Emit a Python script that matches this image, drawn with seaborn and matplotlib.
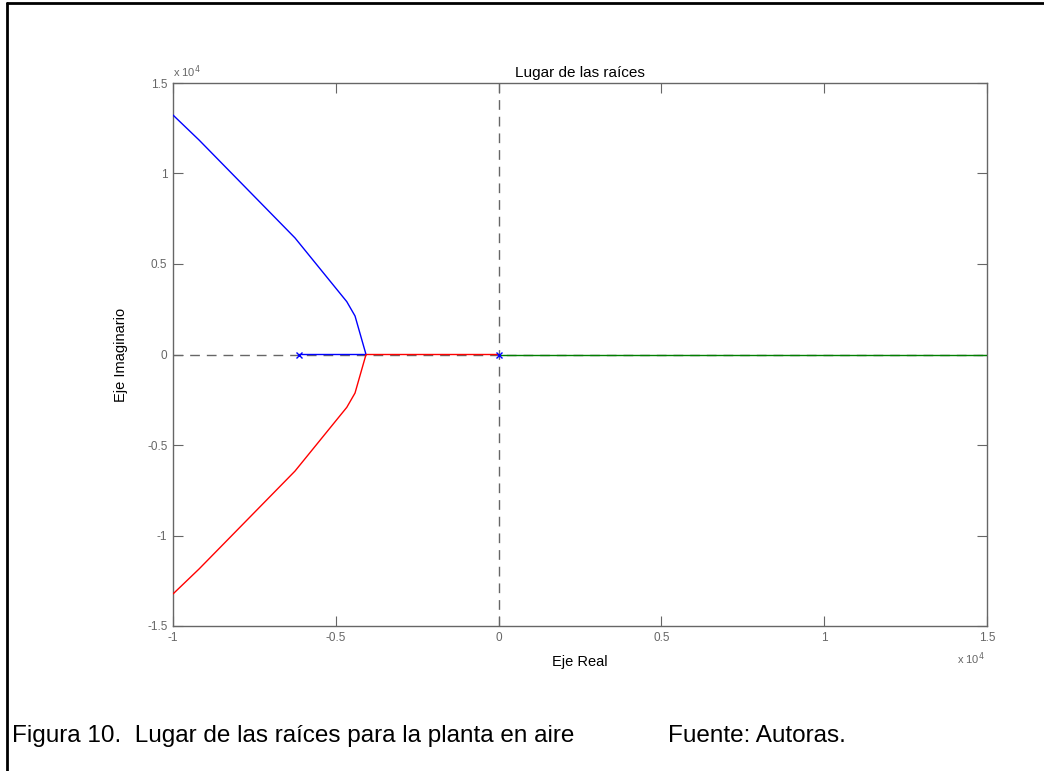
import matplotlib
matplotlib.use("Agg")
import matplotlib.pyplot as plt
import seaborn as sns
import numpy as np
import pandas as pd

sns.set_style("white")
plt.rcParams['font.family'] = ['Liberation Sans', 'DejaVu Sans']

# Root locus branches (real, imaginary)
blue_re = [-6120, -4072, -4410, -4663, -6253, -9200, -10000]
blue_im = [0, 0, 2130, 2920, 6440, 11850, 13230]
red_re = [0, -4072, -4410, -4663, -6253, -9200, -10000]
red_im = [0, 0, -2130, -2920, -6440, -11850, -13230]
green_re = [0, 15000]
green_im = [0, 0]
poles_re = [-6120, 0]
poles_im = [0, 0]

xticks = [-10000, -5000, 0, 5000, 10000, 15000]
xticklabels = ["-1", "-0.5", "0", "0.5", "1", "1.5"]
yticks = [-15000, -10000, -5000, 0, 5000, 10000, 15000]
yticklabels = ["-1.5", "-1", "-0.5", "0", "0.5", "1", "1.5"]

fig = plt.figure(figsize=(10.44, 7.71), dpi=100)
ax = fig.add_axes([173/1044, 1-626/771, (987-173)/1044, (626-83)/771])

gray = "#666666"
ax.axhline(0, color=gray, lw=1, ls=(0, (7, 5)), zorder=1)
ax.axvline(0, color=gray, lw=1, ls=(0, (7, 5)), zorder=5)

sns.lineplot(x=blue_re, y=blue_im, sort=False, estimator=None, color="#0000ff", lw=1, ax=ax, zorder=3)
sns.lineplot(x=red_re, y=red_im, sort=False, estimator=None, color="#ff0000", lw=1, ax=ax, zorder=3)
sns.lineplot(x=green_re, y=green_im, sort=False, estimator=None, color="#008000", lw=1, ax=ax, zorder=3)
ax.plot(poles_re, poles_im, ls="none", marker="x", color="#0000ff", ms=4, mew=1, zorder=6)

ax.set_xlim(-10000, 15000)
ax.set_ylim(-15000, 15000)
ax.set_xticks(xticks)
ax.set_xticklabels(xticklabels)
ax.set_yticks(yticks)
ax.set_yticklabels(yticklabels)
ax.tick_params(direction="in", length=7, width=0.8, colors=gray, labelsize=8.5,
               top=True, right=True, bottom=True, left=True, pad=4)
for s in ax.spines.values():
    s.set_color(gray)
    s.set_linewidth(1)
    s.set_visible(True)

ax.set_title("Lugar de las raíces", fontsize=11, color="black", pad=4)
ax.set_xlabel("Eje Real", fontsize=10.5, color="black", labelpad=8)
ax.set_ylabel("Eje Imaginario", fontsize=10.5, color="black", labelpad=14)

fig.text(173/1044, 1-72/771, r"x 10$^4$", fontsize=8, color=gray, ha="left", va="center")
fig.text(985/1044, 1-659/771, r"x 10$^4$", fontsize=8, color=gray, ha="right", va="center")

fig.text(12/1044, 1-736/771, "Figura 10.  Lugar de las raíces para la planta en aire",
         fontsize=17.5, color="black", ha="left", va="center")
fig.text(668/1044, 1-736/771, "Fuente: Autoras.", fontsize=17.5, color="black", ha="left", va="center")

# outer frame lines (left and top)
fig.add_artist(plt.Line2D([7/1044, 7/1044], [0, 1-3/771], transform=fig.transFigure, color="black", lw=2))
fig.add_artist(plt.Line2D([7/1044, 1], [1-3/771, 1-3/771], transform=fig.transFigure, color="black", lw=2))

fig.savefig("out.png", dpi=100)
